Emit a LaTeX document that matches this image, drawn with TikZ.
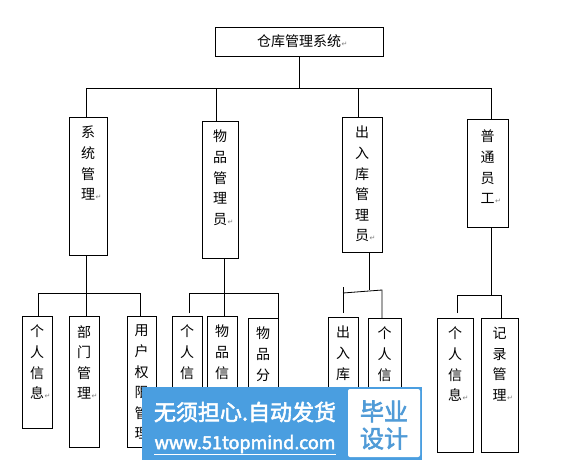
\documentclass[tikz,border=0pt]{standalone}
\usepackage{fontspec}
\newfontfamily\cjk{Noto Sans CJK SC}
\newfontfamily\cjkb[FakeBold=2.5]{Noto Sans CJK SC}
\newfontfamily\symf{DejaVu Sans}
\definecolor{wmblue}{RGB}{74,158,224}
\definecolor{wmtext}{RGB}{80,155,215}
\newcommand{\retmark}{\rlap{\hspace{0.5pt}\textcolor{gray}{\symf\fontsize{7}{7}\selectfont ↵}}}
\begin{document}
\begin{tikzpicture}[x=1pt,y=-1pt,
  box/.style={draw=black,line width=0.8pt,anchor=north west,inner sep=0pt,outer sep=0pt},
  txt/.style={anchor=north,align=center,inner sep=0pt,font=\cjk\fontsize{14}{20.6}\selectfont},
  conn/.style={draw=black,line width=0.8pt}]
\useasboundingbox (0,0) rectangle (564,460);
\fill[white] (0,0) rectangle (564,460);
% boxes
\newcommand{\bx}[5]{\node[box,minimum width=#4-#2,minimum height=#5-#3] (#1) at (#2,#3) {};}
\bx{top}{215}{27}{383}{56}
\bx{A}{69}{117}{107}{255}
\bx{B}{202}{121}{238}{258}
\bx{C}{342}{117}{382}{252}
\bx{D}{467}{119}{508}{227}
\bx{A1}{22}{316}{52}{428}
\bx{A2}{69}{316}{99}{447}
\bx{A3}{127}{316}{156}{447}
\bx{B1}{172}{316}{202}{458}
\bx{B2}{207}{316}{237}{458}
\bx{B3}{248}{318}{278}{458}
\bx{C1}{328}{317}{358}{458}
\bx{C2}{368}{318}{401}{458}
\bx{D1}{437}{318}{473}{452}
\bx{D2}{481}{318}{518}{452}
% texts
\node[txt,anchor=center] (topt) at (top.center) {仓库管理系统\retmark};
\node[txt] (At) at ([yshift=-9pt]A.north) {系\\统\\管\\理\retmark};
\node[txt] (Bt) at ([yshift=-9pt]B.north) {物\\品\\管\\理\\员\retmark};
\node[txt] (Ct) at ([yshift=-9pt]C.north) {出\\入\\库\\管\\理\\员\retmark};
\node[txt] (Dt) at ([yshift=-11pt]D.north) {普\\通\\员\\工\retmark};
\node[txt] (A1t) at ([yshift=-9pt]A1.north) {个\\人\\信\\息\retmark};
\node[txt] (A2t) at ([yshift=-9pt]A2.north) {部\\门\\管\\理\retmark};
\node[txt] (A3t) at ([yshift=-9pt]A3.north) {用\\户\\权\\限\\管\\理};
\node[txt] (B1t) at ([yshift=-9pt]B1.north) {个\\人\\信};
\node[txt] (B2t) at ([yshift=-9pt]B2.north) {物\\品\\信};
\node[txt] (B3t) at ([yshift=-9pt]B3.north) {物\\品\\分};
\node[txt] (C1t) at ([yshift=-9pt]C1.north) {出\\入\\库};
\node[txt] (C2t) at ([yshift=-9pt]C2.north) {个\\人\\信};
\node[txt] (D1t) at ([yshift=-9pt]D1.north) {个\\人\\信\\息\retmark};
\node[txt] (D2t) at ([yshift=-9pt]D2.north) {记\\录\\管\\理\retmark};
% level 1 connectors
\coordinate (bus1) at (299,88);
\draw[conn] (top.south) -- (bus1);
\draw[conn] ([xshift=-2pt]A.north) -- ++(0,-29) -| ([xshift=3.5pt]D.north);
\draw[conn] ([xshift=-4pt]B.north) -- ++(0,-33);
\draw[conn] ([xshift=-4pt]C.north) -- ++(0,-29);
% A children
\draw[conn] ([xshift=-2pt]A.south) -- ++(0,38);
\draw[conn] ([xshift=1pt]A1.north) -- ++(0,-23) -| ([xshift=-1.5pt]A3.north);
\draw[conn] ([xshift=2pt]A2.north) -- ++(0,-23);
% B children
\draw[conn] ([xshift=4pt]B.south) -- ++(0,35);
\draw[conn] ([xshift=2pt,yshift=3pt]B1.north) -- ++(0,-20) -| (B3.north east);
\draw[conn] ([xshift=2pt]B2.north) -- ++(0,-23);
% C children
\draw[conn] ([xshift=7pt]C.south) -- ++(0,38);
\draw[conn] ([yshift=4pt]C1.north) -- ++(0,-26);
\draw[conn] ([yshift=24pt]C1.north) -- ([xshift=-2.5pt,yshift=28pt]C2.north) -- ([xshift=-2.5pt]C2.north);
% D children
\draw[conn] ([xshift=3.5pt]D.south) -- ++(0,68);
\draw[conn] ([xshift=2pt,yshift=5pt]D1.north) -- ++(0,-18) -| ([xshift=1.5pt]D2.north);
% watermark
\fill[wmblue] (142,387) rectangle (422,460);
\fill[white,rounded corners=2pt] (348,389) rectangle (420,457);
\node[text=white,font=\cjkb\fontsize{22}{22}\selectfont,inner sep=0pt] (wm1) at (245,412) {无须担心.自动发货};
\node[text=white,font=\cjkb\fontsize{18}{18}\selectfont,inner sep=0pt] (wm2) at (245,444) {www.51topmind.com};
\draw[white,line width=1pt] ([yshift=-1pt]wm2.south west) -- ([yshift=-1pt]wm2.south east);
\node[text=wmtext,font=\cjkb\fontsize{24}{27}\selectfont,align=center,inner sep=0pt] (wm3) at (384,425) {毕业\\设计};
\end{tikzpicture}
\end{document}
